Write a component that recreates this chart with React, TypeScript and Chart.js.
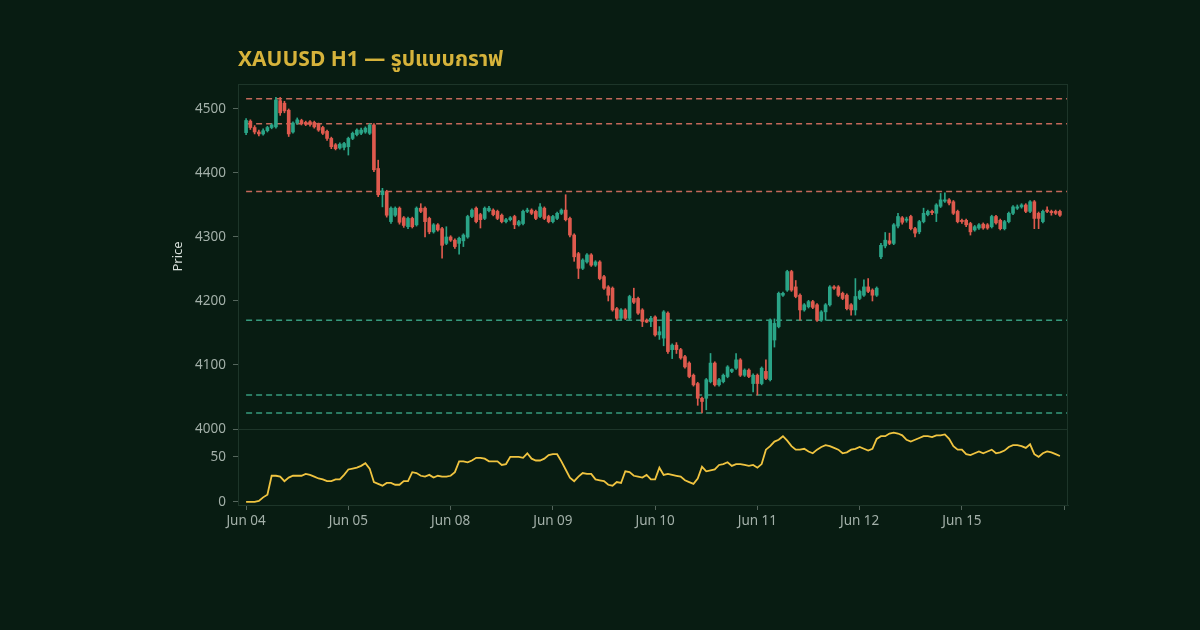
import { useEffect, useRef } from 'react';
import { Chart, registerables } from 'chart.js';

Chart.register(...registerables);

const titleText = 'XAUUSD H1 — รูปแบบกราฟ';
const dayLabels = ['Jun 04', 'Jun 05', 'Jun 08', 'Jun 09', 'Jun 10', 'Jun 11', 'Jun 12', 'Jun 15'];
const barsPerDay = 24;

const opens = [
  4463, 4481, 4471, 4464, 4461, 4466, 4471, 4472, 4513, 4509, 4498, 4464, 4478, 4482, 4479, 4480, 4479, 4476, 4471, 4465, 4454, 4444, 4439, 4440,
  4441, 4454, 4460, 4462, 4464, 4462, 4475, 4407, 4366, 4371, 4324, 4334, 4345, 4330, 4316, 4329, 4319, 4345, 4345, 4329, 4308, 4319, 4313, 4290,
  4300, 4295, 4290, 4294, 4300, 4332, 4345, 4335, 4329, 4341, 4342, 4340, 4334, 4324, 4327, 4332, 4319, 4321, 4340, 4342, 4340, 4332, 4345, 4332,
  4324, 4329, 4337, 4342, 4329, 4303, 4274, 4251, 4261, 4272, 4256, 4261, 4238, 4222, 4220, 4188, 4173, 4186, 4173, 4204, 4204, 4186, 4170, 4168,
  4175, 4147, 4142, 4181, 4124, 4131, 4124, 4113, 4103, 4084, 4071, 4048, 4048, 4074, 4103, 4069, 4074, 4082, 4090, 4095, 4108, 4084, 4092, 4071,
  4084, 4071, 4090, 4077, 4139, 4160, 4209, 4217, 4246, 4222, 4209, 4186, 4191, 4199, 4194, 4170, 4183, 4194, 4222, 4222, 4212, 4209, 4194, 4186,
  4204, 4209, 4222, 4217, 4209, 4269, 4286, 4294, 4290, 4317, 4330, 4326, 4332, 4313, 4308, 4324, 4335, 4340, 4337, 4348, 4356, 4358, 4355, 4340,
  4326, 4326, 4321, 4311, 4314, 4320, 4319, 4316, 4332, 4326, 4313, 4324, 4337, 4345, 4347, 4350, 4340, 4355, 4337, 4324, 4342, 4340, 4340, 4340,
];
const highs = [
  4485, 4483, 4474, 4467, 4469, 4473, 4477, 4518, 4518, 4512, 4500, 4480, 4486, 4484, 4481, 4482, 4481, 4478, 4473, 4467, 4456, 4446, 4447, 4448,
  4456, 4464, 4469, 4470, 4472, 4477, 4477, 4420, 4376, 4373, 4347, 4347, 4347, 4332, 4331, 4331, 4347, 4352, 4347, 4331, 4321, 4321, 4315, 4316,
  4302, 4297, 4300, 4305, 4334, 4344, 4347, 4337, 4347, 4348, 4344, 4342, 4336, 4329, 4332, 4334, 4326, 4342, 4345, 4344, 4342, 4352, 4347, 4334,
  4334, 4339, 4344, 4366, 4331, 4305, 4276, 4266, 4274, 4274, 4263, 4263, 4240, 4224, 4222, 4190, 4188, 4188, 4209, 4220, 4206, 4188, 4172, 4176,
  4177, 4160, 4185, 4183, 4133, 4135, 4126, 4115, 4105, 4086, 4073, 4050, 4079, 4118, 4105, 4079, 4086, 4099, 4094, 4118, 4110, 4094, 4094, 4086,
  4086, 4097, 4108, 4172, 4172, 4214, 4214, 4248, 4248, 4232, 4211, 4196, 4201, 4201, 4196, 4185, 4196, 4224, 4224, 4224, 4214, 4211, 4196, 4235,
  4217, 4233, 4235, 4219, 4222, 4290, 4307, 4306, 4321, 4337, 4332, 4331, 4334, 4315, 4326, 4345, 4342, 4342, 4352, 4368, 4369, 4360, 4357, 4342,
  4328, 4328, 4323, 4318, 4321, 4322, 4321, 4334, 4334, 4328, 4326, 4339, 4349, 4350, 4352, 4352, 4357, 4357, 4339, 4342, 4347, 4342, 4342, 4342,
];
const lows = [
  4460, 4468, 4461, 4458, 4459, 4464, 4469, 4470, 4490, 4494, 4457, 4462, 4476, 4475, 4474, 4473, 4470, 4465, 4460, 4451, 4438, 4436, 4437, 4436,
  4428, 4452, 4458, 4460, 4462, 4460, 4402, 4363, 4347, 4331, 4321, 4332, 4320, 4315, 4313, 4314, 4317, 4338, 4300, 4305, 4306, 4309, 4267, 4288,
  4293, 4282, 4273, 4285, 4298, 4330, 4322, 4314, 4327, 4339, 4333, 4327, 4322, 4322, 4325, 4313, 4317, 4319, 4338, 4335, 4327, 4330, 4327, 4322,
  4322, 4327, 4335, 4325, 4300, 4262, 4235, 4249, 4259, 4254, 4254, 4233, 4218, 4200, 4184, 4171, 4171, 4171, 4171, 4196, 4179, 4160, 4166, 4160,
  4145, 4140, 4130, 4118, 4110, 4118, 4109, 4095, 4080, 4067, 4037, 4025, 4030, 4072, 4067, 4067, 4072, 4080, 4088, 4093, 4082, 4082, 4080, 4058,
  4053, 4069, 4077, 4075, 4128, 4158, 4207, 4215, 4215, 4205, 4170, 4184, 4189, 4188, 4168, 4168, 4170, 4192, 4218, 4207, 4202, 4186, 4178, 4178,
  4202, 4207, 4213, 4200, 4207, 4266, 4283, 4288, 4288, 4314, 4320, 4323, 4311, 4300, 4305, 4322, 4333, 4335, 4324, 4346, 4354, 4350, 4335, 4322,
  4321, 4316, 4303, 4309, 4312, 4312, 4312, 4314, 4320, 4311, 4311, 4322, 4335, 4343, 4345, 4338, 4338, 4313, 4313, 4322, 4338, 4334, 4335, 4332,
];
const closes = [
  4482, 4471, 4464, 4461, 4466, 4471, 4475, 4514, 4494, 4497, 4461, 4478, 4483, 4477, 4476, 4476, 4472, 4467, 4462, 4454, 4441, 4438, 4445, 4446,
  4454, 4462, 4467, 4467, 4470, 4475, 4405, 4366, 4372, 4334, 4345, 4345, 4323, 4318, 4329, 4316, 4345, 4340, 4324, 4308, 4319, 4311, 4287, 4300,
  4295, 4285, 4298, 4303, 4332, 4342, 4324, 4327, 4345, 4345, 4335, 4329, 4324, 4327, 4330, 4319, 4324, 4340, 4342, 4337, 4329, 4347, 4329, 4324,
  4332, 4337, 4342, 4327, 4303, 4269, 4251, 4264, 4272, 4256, 4261, 4235, 4220, 4209, 4186, 4173, 4186, 4173, 4207, 4198, 4181, 4168, 4167, 4173,
  4147, 4152, 4183, 4121, 4131, 4124, 4111, 4097, 4082, 4069, 4048, 4043, 4077, 4103, 4069, 4077, 4084, 4097, 4093, 4108, 4084, 4092, 4082, 4084,
  4071, 4095, 4079, 4170, 4165, 4212, 4212, 4246, 4217, 4207, 4186, 4194, 4199, 4190, 4170, 4183, 4194, 4222, 4220, 4209, 4204, 4188, 4186, 4207,
  4215, 4222, 4215, 4209, 4220, 4287, 4295, 4290, 4319, 4332, 4323, 4328, 4313, 4306, 4324, 4337, 4340, 4338, 4350, 4358, 4358, 4353, 4337, 4324,
  4324, 4319, 4308, 4316, 4319, 4314, 4314, 4332, 4322, 4313, 4324, 4337, 4347, 4347, 4350, 4340, 4355, 4329, 4329, 4340, 4340, 4338, 4337, 4334,
];

const oscillator = [
  0, 0, 0, 1, 5, 8, 29, 29, 28, 23, 27, 29, 29, 29, 31, 30, 28, 26, 25, 23, 23, 25, 25, 30,
  36, 37, 38, 40, 43, 37, 22, 20, 18, 21, 21, 19, 19, 23, 23, 33, 32, 29, 28, 30, 27, 29, 28, 28,
  29, 33, 45, 45, 44, 46, 49, 49, 48, 45, 45, 45, 41, 42, 50, 50, 50, 49, 54, 48, 46, 46, 48, 52,
  53, 53, 45, 36, 27, 23, 28, 32, 31, 31, 25, 24, 23, 19, 18, 22, 21, 34, 33, 29, 28, 27, 30, 25,
  25, 38, 30, 31, 30, 29, 28, 24, 22, 20, 26, 39, 34, 35, 36, 41, 42, 44, 40, 42, 42, 41, 40, 41,
  38, 42, 58, 62, 67, 69, 73, 68, 62, 58, 58, 59, 56, 54, 58, 61, 63, 62, 60, 58, 54, 55, 58, 59,
  61, 59, 57, 59, 70, 73, 73, 76, 77, 76, 74, 69, 67, 69, 71, 73, 73, 72, 74, 74, 75, 70, 62, 58,
  58, 53, 52, 54, 56, 54, 56, 58, 54, 55, 57, 61, 63, 63, 62, 60, 64, 53, 50, 54, 56, 55, 53, 51,
];

const resistanceLevels = [4516, 4477, 4371];
const supportLevels = [4170, 4053, 4025];
const priceTicks = [4000, 4100, 4200, 4300, 4400, 4500];
const oscTicks = [0, 50];

const BG = '#081c12';
const UP = '#2aa487';
const DOWN = '#df5a4e';
const RES = '#c4685a';
const SUP = '#369b7e';
const OSC = '#f0c440';
const TICK = '#a3b0a9';
const FRAME = '#1d3529';
const FONT = "'Noto Sans', 'Noto Sans Thai', 'Noto Sans Thai UI', Loma, Garuda, 'DejaVu Sans', sans-serif";

export default function App() {
  const ref = useRef<HTMLCanvasElement | null>(null);

  useEffect(() => {
    document.body.style.margin = '0';
    document.body.style.background = BG;
    const canvas = ref.current;
    if (!canvas) return;

    const n = closes.length;
    const xMin = -1.9;
    const xMax = n + 0.9;
    const colors = closes.map((c, i) => (c >= opens[i] ? UP : DOWN));

    const levelSet = (lv: number, color: string) => ({
      type: 'line' as const,
      data: [
        { x: 0, y: lv },
        { x: xMax, y: lv },
      ],
      borderColor: color,
      borderWidth: 1.5,
      borderDash: [6, 4],
      pointRadius: 0,
      yAxisID: 'y',
      order: 3,
    });

    const framePlugin = {
      id: 'frame',
      beforeDraw(chart: any) {
        const { ctx } = chart;
        ctx.save();
        ctx.fillStyle = BG;
        ctx.fillRect(0, 0, chart.width, chart.height);
        ctx.restore();
      },
      afterDraw(chart: any) {
        const { ctx, chartArea } = chart;
        const yb = chart.scales.y.bottom;
        ctx.save();
        ctx.strokeStyle = FRAME;
        ctx.lineWidth = 1;
        ctx.strokeRect(chartArea.left + 0.5, chartArea.top + 0.5, chartArea.right - chartArea.left - 1, chartArea.bottom - chartArea.top);
        ctx.beginPath();
        ctx.moveTo(chartArea.left, Math.round(yb) + 0.5);
        ctx.lineTo(chartArea.right, Math.round(yb) + 0.5);
        ctx.stroke();
        ctx.fillStyle = '#d6b33b';
        ctx.font = `bold 21px ${FONT}`;
        ctx.textBaseline = 'middle';
        ctx.textAlign = 'left';
        ctx.fillText(titleText, chartArea.left, 60);
        ctx.restore();
      },
    };

    const gridOpts = { display: true, drawOnChartArea: false, tickLength: 5, color: '#55665d', offset: false };
    const tickFont = { family: FONT, size: 13.5 };

    const chart = new Chart(canvas, {
      type: 'bar',
      data: {
        datasets: [
          {
            type: 'line',
            data: oscillator.map((v, i) => ({ x: i, y: v })),
            borderColor: OSC,
            borderWidth: 1.8,
            pointRadius: 0,
            yAxisID: 'y2',
            order: 0,
          } as any,
          {
            type: 'bar',
            data: opens.map((o, i) => ({ x: i, y: [o, closes[i]] })),
            backgroundColor: colors,
            barThickness: 3,
            grouped: false,
            yAxisID: 'y',
            order: 1,
          } as any,
          {
            type: 'bar',
            data: lows.map((l, i) => ({ x: i, y: [l, highs[i]] })),
            backgroundColor: colors,
            barThickness: 1,
            grouped: false,
            yAxisID: 'y',
            order: 2,
          } as any,
          ...resistanceLevels.map((lv) => levelSet(lv, RES) as any),
          ...supportLevels.map((lv) => levelSet(lv, SUP) as any),
        ],
      },
      options: {
        animation: false,
        responsive: false,
        devicePixelRatio: 1,
        layout: { padding: { left: 166, right: 132, top: 84, bottom: 95 } },
        plugins: { legend: { display: false }, tooltip: { enabled: false }, title: { display: false } },
        scales: {
          x: {
            type: 'linear',
            min: xMin,
            max: xMax,
            offset: false,
            afterBuildTicks: (s: any) => {
              const t = [];
              for (let k = 0; k <= dayLabels.length; k++) t.push({ value: k * barsPerDay });
              s.ticks = t;
            },
            afterFit: (s: any) => {
              s.height = 30;
            },
            ticks: {
              autoSkip: false,
              maxRotation: 0,
              padding: 3,
              color: TICK,
              font: tickFont,
              callback: (v: any) => dayLabels[Math.round(Number(v) / barsPerDay)] ?? '',
            },
            grid: gridOpts,
            border: { display: true, color: FRAME },
          },
          y2: {
            type: 'linear',
            position: 'left',
            stack: 'panels',
            stackWeight: 76,
            min: -3.5,
            max: 81,
            afterBuildTicks: (s: any) => {
              s.ticks = oscTicks.map((value) => ({ value }));
            },
            afterFit: (s: any) => {
              s.width = 72;
            },
            ticks: { color: TICK, padding: 7, font: tickFont, callback: (v: any) => String(v) },
            grid: gridOpts,
            border: { display: true, color: FRAME },
          },
          y: {
            type: 'linear',
            position: 'left',
            stack: 'panels',
            stackWeight: 345,
            min: 4000,
            max: 4539,
            afterBuildTicks: (s: any) => {
              s.ticks = priceTicks.map((value) => ({ value }));
            },
            afterFit: (s: any) => {
              s.width = 72;
            },
            title: { display: true, text: 'Price', color: '#d5ddd8', font: { family: FONT, size: 13 }, padding: { top: 4, bottom: 4 } },
            ticks: { color: TICK, padding: 7, font: tickFont, callback: (v: any) => String(v) },
            grid: gridOpts,
            border: { display: true, color: FRAME },
          },
        },
      } as any,
      plugins: [framePlugin],
    });

    return () => chart.destroy();
  }, []);

  return (
    <div style={{ position: 'fixed', left: 0, top: 0, width: 1200, height: 630, background: BG }}>
      <canvas ref={ref} width={1200} height={630} style={{ display: 'block', width: 1200, height: 630 }} />
    </div>
  );
}
